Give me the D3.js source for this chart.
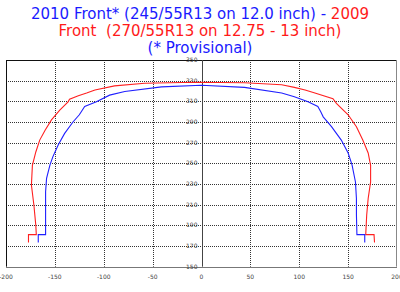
<!DOCTYPE html>
<html><head><meta charset="utf-8">
<script src="https://cdn.jsdelivr.net/npm/d3@7"></script>
<style>body{margin:0;background:#fff;}svg{display:block;}</style>
</head><body>
<svg id="c" width="400" height="292"></svg>
<script>
const xTicks = [-200,-150,-100,-50,0,50,100,150,200];
const yTicks = [150,170,190,210,230,250,270,290,310,330,350];
const redX = [-177,-177,-169,-169.5,-171.5,-174,-173,-169.5,-165.5,-160,-153.5,-145,-136.5,-135,-126,-117.5,-109,-89,-58,-7,44,82,95,106,116,134.5,138,150,158.5,165,170.5,173,173,170.5,169,168,176.5,177];
const redY = [173.5,181,181,190,210,229,248,261,272.5,282,292,301.5,309.5,312,315.5,318,321,325,327.5,328.5,328,326,323.5,321,318,312.5,308,297,285.5,272.5,260,248,232,216,200,181,181,173.5];
const blueX = [-167,-167,-159.5,-159.5,-159.5,-158.5,-155,-152,-146.5,-140,-131.5,-125,-123,-119.5,-107.5,-94,-78.5,-41,0,44,82,95,109,119,122,124.5,133,143,150,154,157.5,158.5,158.5,159,167,167];
const blueY = [173.5,181,181,200,222.5,235.5,248.5,256.5,268,279,290,297,300,305,309.5,316,319.5,324,325.5,323.5,318,314.5,309.5,305,300,295,285.5,272.5,260,248.5,232,216,200,181,181,173.5];

const svg = d3.select("#c");
const x = d3.scaleLinear().domain([-200,200]).range([6,397]);
const y = d3.scaleLinear().domain([150,350]).range([266.7,60]);

// title
const t = svg.append("text").attr("text-anchor","middle").attr("font-family","DejaVu Sans")
  .attr("font-size",15).attr("xml:space","preserve").style("white-space","pre");
const l1 = t.append("tspan").attr("x",200).attr("y",18.5);
l1.append("tspan").attr("fill","#1a1aff").text("2010 Front* (245/55R13 on 12.0 inch) - ");
l1.append("tspan").attr("fill","#ff1a1a").text("2009");
t.append("tspan").attr("x",200).attr("y",35.5).attr("fill","#ff1a1a").text("Front  (270/55R13 on 12.75 - 13 inch)");
t.append("tspan").attr("x",200).attr("y",52.5).attr("fill","#1a1aff").text("(* Provisional)");

// grid
const g = svg.append("g");
g.selectAll(".vg").data(xTicks.filter(d=>d!==0 && Math.abs(d)!==200)).enter().append("line")
  .attr("x1",d=>Math.round(x(d))+0.5).attr("x2",d=>Math.round(x(d))+0.5)
  .attr("y1",y(350)).attr("y2",y(150))
  .attr("stroke","#333").attr("stroke-dasharray","1,1");
g.selectAll(".hg").data(yTicks.filter(d=>d!==150 && d!==350)).enter().append("line")
  .attr("y1",d=>Math.round(y(d))+0.5).attr("y2",d=>Math.round(y(d))+0.5)
  .attr("x1",x(-200)).attr("x2",x(200))
  .attr("stroke","#333").attr("stroke-dasharray","1,1");

// frame
g.append("line").attr("x1",x(-200)).attr("x2",x(200)).attr("y1",Math.round(y(350))+0.5).attr("y2",Math.round(y(350))+0.5).attr("stroke","#111");
g.append("line").attr("x1",x(-200)).attr("x2",x(200)).attr("y1",Math.round(y(150))+0.5).attr("y2",Math.round(y(150))+0.5).attr("stroke","#777");
g.append("line").attr("x1",Math.round(x(-200))+0.5).attr("x2",Math.round(x(-200))+0.5).attr("y1",y(350)).attr("y2",y(150)).attr("stroke","#111");
g.append("line").attr("x1",Math.round(x(200))-0.5).attr("x2",Math.round(x(200))-0.5).attr("y1",y(350)).attr("y2",y(150)).attr("stroke","#888");
g.append("line").attr("x1",Math.round(x(0))+0.5).attr("x2",Math.round(x(0))+0.5).attr("y1",y(350)).attr("y2",y(150)).attr("stroke","#444");

// tick labels
svg.selectAll(".xl").data(xTicks).enter().append("text")
  .attr("x",d=>x(d)).attr("y",279).attr("text-anchor","middle")
  .attr("font-family","DejaVu Sans").attr("font-size",6).attr("fill","#444").text(d=>d);
svg.selectAll(".yl").data(yTicks).enter().append("text")
  .attr("x",x(0)-4).attr("y",d=>y(d)+2).attr("text-anchor","end")
  .attr("font-family","DejaVu Sans").attr("font-size",6).attr("fill","#444").text(d=>d);

// curves
const line = d3.line().x(d=>x(d[0])).y(d=>y(d[1]));
svg.append("path").datum(redX.map((v,i)=>[v,redY[i]])).attr("d",line)
  .attr("fill","none").attr("stroke","#ff2020").attr("stroke-width",1.1);
svg.append("path").datum(blueX.map((v,i)=>[v,blueY[i]])).attr("d",line)
  .attr("fill","none").attr("stroke","#2020ff").attr("stroke-width",1.1);
</script>
</body></html>
